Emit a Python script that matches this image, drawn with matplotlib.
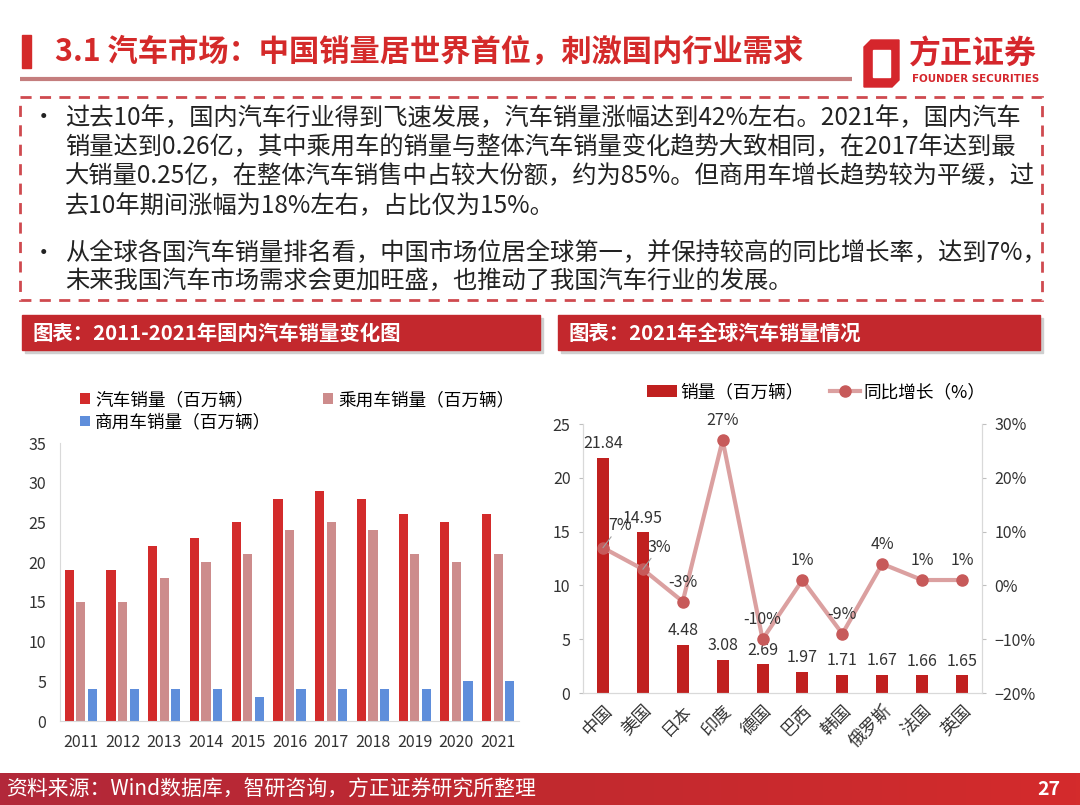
import numpy as np
import matplotlib.pyplot as plt
from matplotlib.patches import Rectangle, Polygon
from matplotlib.colors import LinearSegmentedColormap
from matplotlib.ticker import PercentFormatter

plt.rcParams['font.family'] = ['Noto Sans CJK SC', 'DejaVu Sans']

W, H = 1080, 805

# left chart: 2011-2021 domestic sales (million vehicles)
years = ['2011', '2012', '2013', '2014', '2015', '2016', '2017', '2018', '2019', '2020', '2021']
total_sales = [19, 19, 22, 23, 25, 28, 29, 28, 26, 25, 26]
passenger_sales = [15, 15, 18, 20, 21, 24, 25, 24, 21, 20, 21]
commercial_sales = [4, 4, 4, 4, 3, 4, 4, 4, 4, 5, 5]

# right chart: 2021 global sales
countries = ['中国', '美国', '日本', '印度', '德国', '巴西', '韩国', '俄罗斯', '法国', '英国']
country_sales = [21.84, 14.95, 4.48, 3.08, 2.69, 1.97, 1.71, 1.67, 1.66, 1.65]
yoy_growth = [7, 3, -3, 27, -10, 1, -9, 4, 1, 1]

title = '3.1 汽车市场：中国销量居世界首位，刺激国内行业需求'
para1 = ['过去10年，国内汽车行业得到飞速发展，汽车销量涨幅达到42%左右。2021年，国内汽车',
         '销量达到0.26亿，其中乘用车的销量与整体汽车销量变化趋势大致相同，在2017年达到最',
         '大销量0.25亿，在整体汽车销售中占较大份额，约为85%。但商用车增长趋势较为平缓，过',
         '去10年期间涨幅为18%左右，占比仅为15%。']
para2 = ['从全球各国汽车销量排名看，中国市场位居全球第一，并保持较高的同比增长率，达到7%，',
         '未来我国汽车市场需求会更加旺盛，也推动了我国汽车行业的发展。']
left_title = '图表：2011-2021年国内汽车销量变化图'
right_title = '图表：2021年全球汽车销量情况'
source = '资料来源：Wind数据库，智研咨询，方正证券研究所整理'

RED = '#d42a2a'
TXT = '#333333'

fig = plt.figure(figsize=(W / 100, H / 100), dpi=100)


def px_axes(x0, y0, x1, y1):
    # pixel box, origin top-left
    return fig.add_axes([x0 / W, 1 - y1 / H, (x1 - x0) / W, (y1 - y0) / H])


bg = px_axes(0, 0, W, H)
bg.axis('off')

# header
bg.add_patch(Rectangle((22, 35), 9, 33, color=RED))
bg.text(55, 52, title, fontsize=21.8, fontweight='bold', color=RED, va='center')
bg.plot([20, 852], [79, 79], color='#c47e7e', lw=3, solid_capstyle='butt')

# logo
bg.add_patch(Polygon([(871, 40), (899, 40), (899, 80), (892, 87), (864, 87), (864, 47)],
                     closed=True, color='#d5262c'))
bg.add_patch(Rectangle((873, 50), 17, 27, color='white'))
bg.text(909, 55, '方正证券', fontsize=23, fontweight='bold', color='#d5262c', va='center')
bg.text(912, 79, 'FOUNDER SECURITIES', fontsize=7.4, fontweight='bold', color='#d5262c',
        va='center', family='DejaVu Sans')

# dashed text box
bg.add_patch(Rectangle((20, 97), 1022, 203, fill=False, ec='#cf4a4f', lw=2, ls=(0, (4, 3))))
for yy, line in zip([118, 147, 176, 206], para1):
    bg.text(65, yy, line, fontsize=17.5, color='#222222', va='center')
for yy, line in zip([253, 281], para2):
    bg.text(65, yy, line, fontsize=17.5, color='#222222', va='center')
bg.text(32, 118, '•', fontsize=17, color='#222222', va='center')
bg.text(32, 253, '•', fontsize=17, color='#222222', va='center')

# section bars
for x0, x1, label in [(22, 540, left_title), (558, 1040, right_title)]:
    bg.add_patch(Rectangle((x0 + 3, 318), x1 - x0, 35, color='#cfcfcf', zorder=1))
    bg.add_patch(Rectangle((x0, 315), x1 - x0, 35, color='#c3282d', zorder=2))
    bg.text(x0 + 11, 333, label, fontsize=14.7, fontweight='bold', color='white',
            va='center', zorder=3)

# footer
grad = np.linspace(0, 1, 256).reshape(1, -1)
foot_cmap = LinearSegmentedColormap.from_list('foot', ['#b2283a', '#c1292f', '#d42b2c'])
bg.imshow(grad, extent=[0, W, H, 773], aspect='auto', cmap=foot_cmap, zorder=0)
bg.text(6, 790, source, fontsize=15, color='white', va='center')
bg.text(1060, 789, '27', fontsize=14, fontweight='bold', color='white', va='center', ha='right')

bg.set_xlim(0, W)
bg.set_ylim(H, 0)

# ---- left chart ----
ax1 = px_axes(60, 443, 519, 721)
x = np.arange(len(years))
b1 = ax1.bar(x - 0.276, total_sales, 0.22, color='#d32b2b', label='汽车销量（百万辆）')
b2 = ax1.bar(x, passenger_sales, 0.22, color='#cd8c8c', label='乘用车销量（百万辆）')
b3 = ax1.bar(x + 0.276, commercial_sales, 0.22, color='#5f8edb', label='商用车销量（百万辆）')
ax1.set_xlim(-0.5, len(years) - 0.5)
ax1.set_ylim(0, 35)
ax1.set_yticks(range(0, 36, 5))
ax1.set_xticks(x, years)
for s in ['top', 'right']:
    ax1.spines[s].set_visible(False)
for s in ['left', 'bottom']:
    ax1.spines[s].set_color('#d9d9d9')
ax1.tick_params(length=0, labelsize=11.5, colors=TXT)
ax1.tick_params(axis='y', pad=10)
ax1.tick_params(axis='x', pad=9)
ax1.legend(handles=[b1, b3, b2], ncol=2, loc='upper left', bbox_to_anchor=(80, 391),
           bbox_transform=bg.transData, frameon=False, fontsize=12.7,
           handlelength=0.55, handleheight=0.55, handletextpad=0.3,
           columnspacing=2.95, labelspacing=0.25, borderpad=0, borderaxespad=0)

# ---- right chart ----
ax2 = px_axes(583, 424, 982, 693)
xc = np.arange(len(countries))
bars = ax2.bar(xc, country_sales, 0.3, color='#c0201f', label='销量（百万辆）')
ax2.bar_label(bars, labels=[f'{v:.2f}' for v in country_sales], padding=4,
              fontsize=11.5, color=TXT)
ax2.set_xlim(-0.5, len(countries) - 0.5)
ax2.set_ylim(0, 25)
ax2.set_yticks(range(0, 26, 5))
ax2.set_xticks(xc, countries, rotation=45, ha='right', rotation_mode='anchor')
ax2.tick_params(axis='x', length=0, labelsize=12.5, colors=TXT, pad=6)
ax2.tick_params(axis='y', length=3, color='#bfbfbf', labelcolor=TXT, labelsize=11.5, pad=6)
ax2.spines['top'].set_visible(False)
for s in ['left', 'bottom', 'right']:
    ax2.spines[s].set_color('#d9d9d9')

ax3 = ax2.twinx()
line, = ax3.plot(xc, yoy_growth, color='#dba0a0', lw=3, marker='o', ms=8,
                 mfc='#c75a5a', mec='#c75a5a', label='同比增长（%）')
ax3.set_ylim(-20, 30)
ax3.set_yticks(range(-20, 31, 10))
ax3.yaxis.set_major_formatter(PercentFormatter(decimals=0))
ax3.tick_params(axis='y', length=3, color='#bfbfbf', labelcolor=TXT, labelsize=11.5, pad=6)
ax3.spines['top'].set_visible(False)
for s in ['left', 'bottom', 'right']:
    ax3.spines[s].set_color('#d9d9d9')

for i, v in enumerate(yoy_growth):
    if i < 2:
        # first two labels sit just right of the bar with a small leader line
        ax3.annotate(f'{v}%', (i, v), xytext=(3.5, 16), textcoords='offset points',
                     ha='left', va='center', fontsize=11.5, color=TXT,
                     arrowprops=dict(arrowstyle='-', color='#a0a0a0', lw=0.8,
                                     shrinkA=0, shrinkB=0))
    else:
        ax3.annotate(f'{v}%', (i, v), xytext=(0, 14), textcoords='offset points',
                     ha='center', va='center', fontsize=11.5, color=TXT)

ax2.legend(handles=[bars, line], ncol=2, loc='center left', bbox_to_anchor=(647, 392),
           bbox_transform=bg.transData, frameon=False, fontsize=12.7,
           handlelength=1.7, handleheight=0.7, handletextpad=0.2,
           columnspacing=1.5, borderpad=0, borderaxespad=0)

fig.savefig('out.png', dpi=100)
